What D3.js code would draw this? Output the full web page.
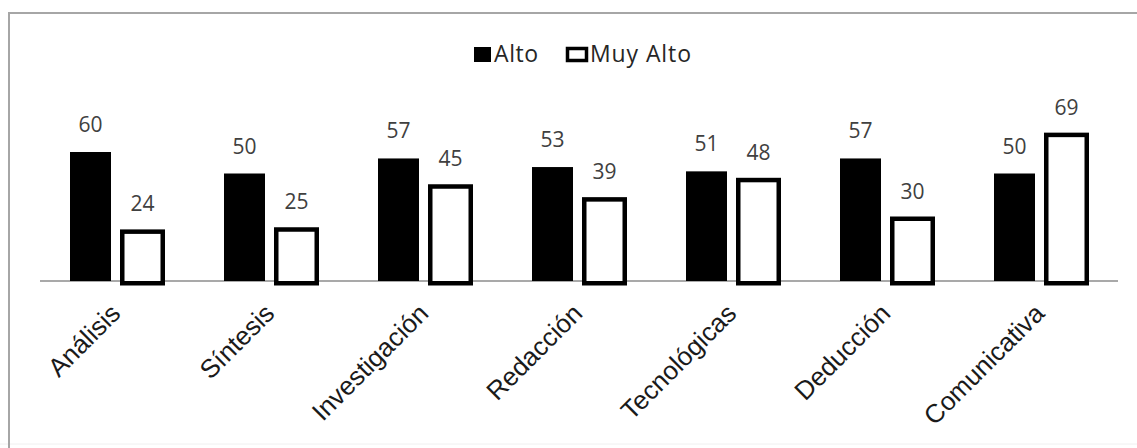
<!DOCTYPE html>
<html>
<head>
<meta charset="utf-8">
<script src="https://cdn.jsdelivr.net/npm/d3@7"></script>
<style>
  html, body { margin: 0; padding: 0; background: #fff; }
  svg { display: block; }
</style>
</head>
<body>
<div id="chart"></div>
<script>
const categories = ['Análisis', 'Síntesis', 'Investigación', 'Redacción', 'Tecnológicas', 'Deducción', 'Comunicativa'];
const series = ['Alto', 'Muy Alto'];
const alto = [60, 50, 57, 53, 51, 57, 50];
const muyAlto = [24, 25, 45, 39, 48, 30, 69];

(function () {
  'use strict';

  const width = 1137;
  const height = 448;
  const baseY = 281;
  const stroke = 4.5;

  const svg = d3.select('#chart')
    .append('svg')
    .attr('width', width)
    .attr('height', height);

  // ----------------------------
  // Frame (right and bottom edges fall outside the crop)
  // ----------------------------
  svg.append('line')
    .attr('x1', 0)
    .attr('x2', width)
    .attr('y1', 444)
    .attr('y2', 444)
    .attr('stroke', '#f0f0f0')
    .attr('stroke-width', 1);

  svg.append('rect')
    .attr('x', 9)
    .attr('y', 13)
    .attr('width', 1150)
    .attr('height', 460)
    .attr('fill', 'none')
    .attr('stroke', '#a6a6a6')
    .attr('stroke-width', 2);

  // ----------------------------
  // Scales
  // ----------------------------
  const x0 = d3.scaleBand()
    .domain(categories)
    .range([40, 1118]);

  const x1 = d3.scaleBand()
    .domain(series)
    .range([30, 125])
    .paddingInner(0.1);

  const y = d3.scaleLinear()
    .domain([0, 100])
    .range([baseY, baseY - 215]);

  const rows = categories.map((c, i) => ({ cat: c, alto: alto[i], muyAlto: muyAlto[i] }));

  // ----------------------------
  // Baseline
  // ----------------------------
  svg.append('line')
    .attr('x1', 40)
    .attr('x2', 1118)
    .attr('y1', baseY)
    .attr('y2', baseY)
    .attr('stroke', '#8c8c8c')
    .attr('stroke-width', 1.5);

  const g = svg.append('g')
    .selectAll('g')
    .data(rows)
    .enter()
    .append('g')
    .attr('transform', d => `translate(${x0(d.cat)},0)`);

  // ---- Alto (black)
  g.append('rect')
    .attr('x', x1('Alto'))
    .attr('y', d => y(d.alto))
    .attr('width', x1.bandwidth() - 4)
    .attr('height', d => baseY - y(d.alto))
    .attr('fill', '#000');

  // ---- Muy Alto (outlined)
  g.append('rect')
    .attr('x', x1('Muy Alto') + stroke / 2)
    .attr('y', d => y(d.muyAlto) + stroke / 2)
    .attr('width', x1.bandwidth() - stroke)
    .attr('height', d => baseY - y(d.muyAlto))
    .attr('fill', '#fff')
    .attr('stroke', '#000')
    .attr('stroke-width', stroke);

  // ---- Value labels
  g.append('text')
    .attr('x', x1('Alto') + (x1.bandwidth() - 4) / 2)
    .attr('y', d => y(d.alto) - 20)
    .attr('text-anchor', 'middle')
    .attr('font-family', 'Open Sans, sans-serif')
    .attr('font-size', 21)
    .attr('fill', '#404040')
    .text(d => d.alto);

  g.append('text')
    .attr('x', x1('Muy Alto') + x1.bandwidth() / 2)
    .attr('y', d => y(d.muyAlto) - 18)
    .attr('text-anchor', 'middle')
    .attr('font-family', 'Open Sans, sans-serif')
    .attr('font-size', 21)
    .attr('fill', '#404040')
    .text(d => d.muyAlto);

  // ----------------------------
  // Category labels
  // ----------------------------
  svg.append('g')
    .selectAll('text')
    .data(categories)
    .enter()
    .append('text')
    .attr('transform', d => `translate(${x0(d) + x0.bandwidth() / 2 + 5},315) rotate(-45)`)
    .attr('text-anchor', 'end')
    .attr('font-family', 'Liberation Sans, Arial, sans-serif')
    .attr('font-size', 26)
    .attr('fill', '#1a1a1a')
    .text(d => d);

  // ----------------------------
  // Legend
  // ----------------------------
  const legend = svg.append('g');

  legend.append('rect')
    .attr('x', 474)
    .attr('y', 47)
    .attr('width', 17)
    .attr('height', 15)
    .attr('fill', '#000');

  legend.append('text')
    .attr('x', 494)
    .attr('y', 62)
    .attr('font-family', 'Open Sans, sans-serif')
    .attr('font-size', 23)
    .attr('letter-spacing', 0.6)
    .attr('fill', '#262626')
    .text(series[0]);

  legend.append('rect')
    .attr('x', 567.5)
    .attr('y', 48.5)
    .attr('width', 19)
    .attr('height', 12)
    .attr('fill', '#fff')
    .attr('stroke', '#000')
    .attr('stroke-width', 3.5);

  legend.append('text')
    .attr('x', 590)
    .attr('y', 62)
    .attr('font-family', 'Open Sans, sans-serif')
    .attr('font-size', 23)
    .attr('letter-spacing', 0.9)
    .attr('fill', '#262626')
    .text(series[1]);
})();
</script>
</body>
</html>
